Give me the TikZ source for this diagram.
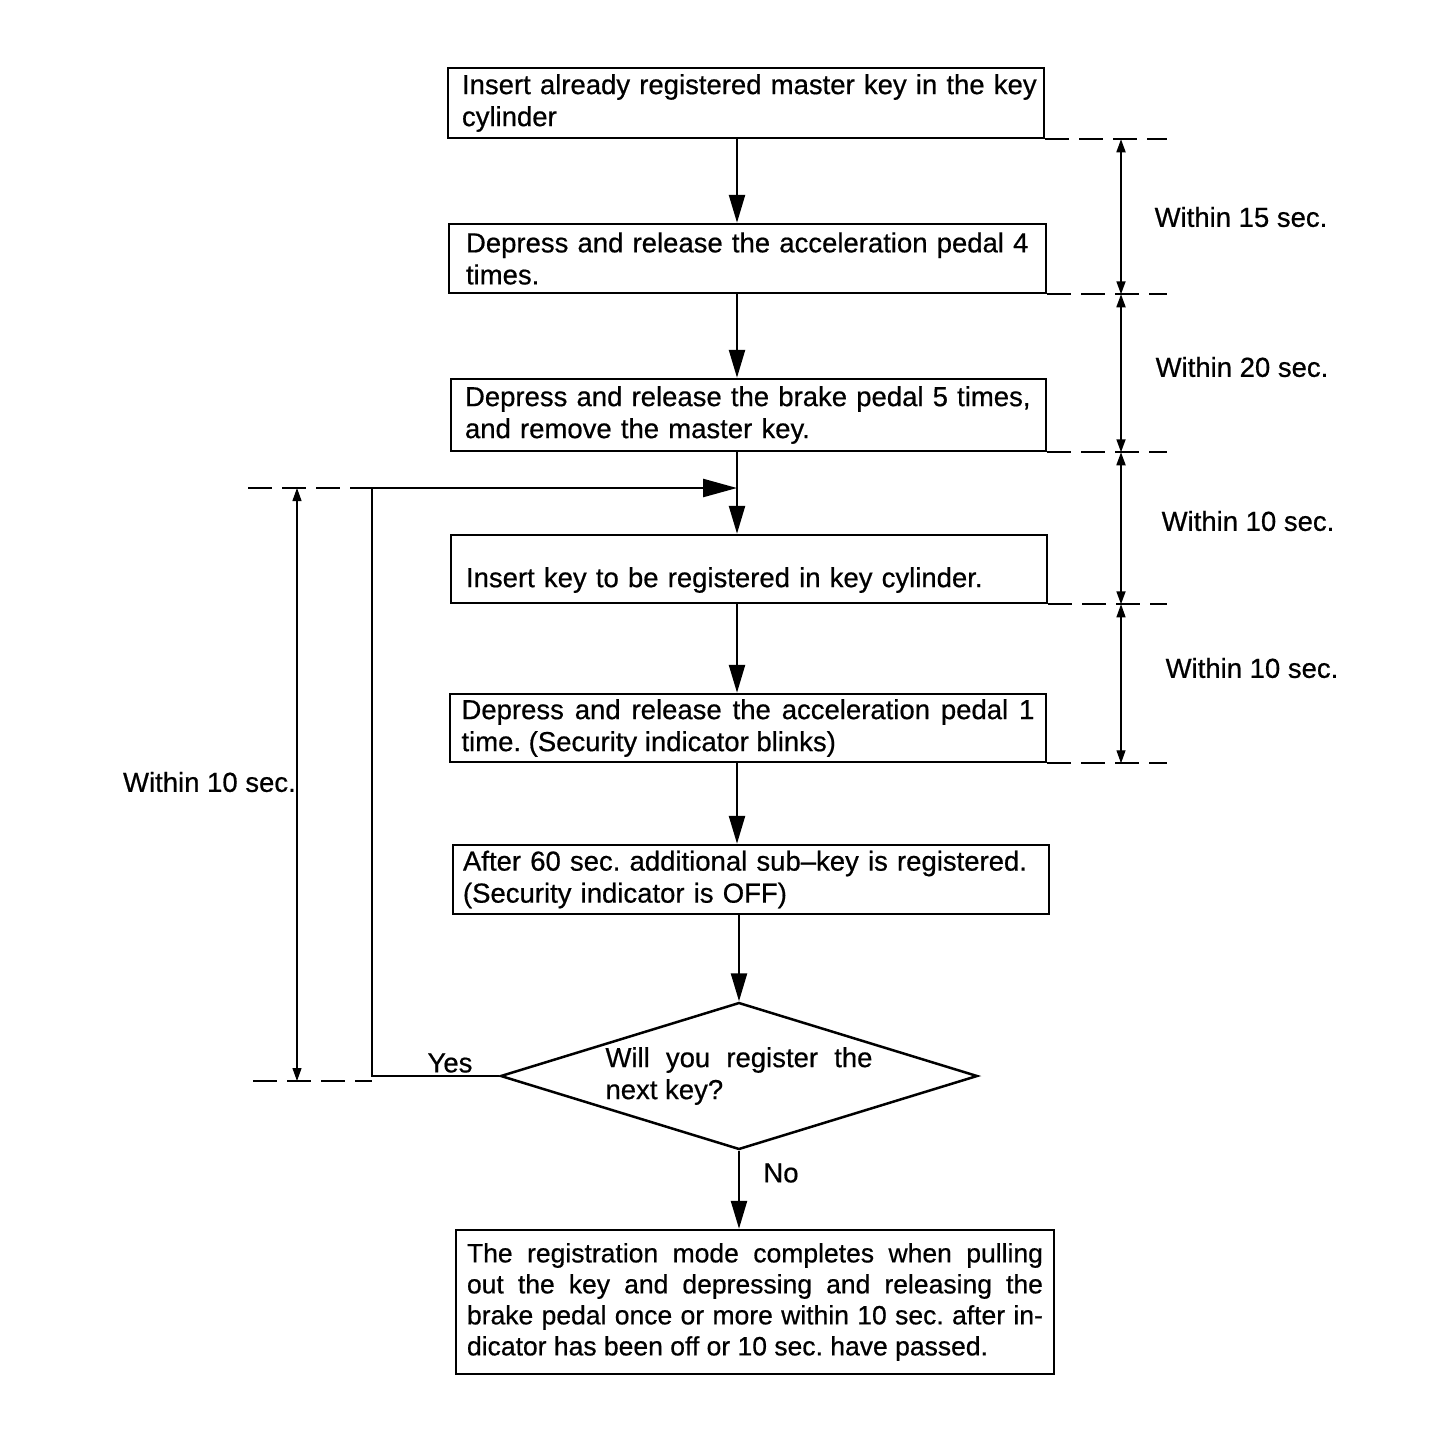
\documentclass[tikz,border=0pt]{standalone}
\usepackage{fontspec}
\setmainfont[FakeBold=0.6]{Liberation Sans}
\usetikzlibrary{arrows.meta,shapes.geometric,calc}
\begin{document}
\frenchspacing
\begin{tikzpicture}[x=1pt,y=-1pt,
  every node/.style={font=\fontsize{27.5}{32}\selectfont\frenchspacing},
  box/.style={draw,line width=2.5pt,rectangle,inner sep=0pt,align=left},
  jbox/.style={draw,line width=2.5pt,rectangle,inner sep=0pt,align=justify},
  flow/.style={line width=2.5pt,-{Triangle[length=28pt,width=16pt]}},
  dim/.style={line width=1.8pt,{Triangle[length=13pt,width=9pt]}-{Triangle[length=13pt,width=9pt]}},
  dashline/.style={line width=1.8pt,dash pattern=on 24pt off 10pt},
  lbl/.style={inner sep=0pt}]
\useasboundingbox (0,0) rectangle (1456,1454);

% boxes
\node[box,minimum width=596,minimum height=70,text width=568] (b1) at (746,103)
  {\mbox{Insert already registered master key in the key}\\cylinder};
\node[box,minimum width=597,minimum height=69,text width=563] (b2) at (747.5,258.5)
  {\mbox{Depress and release the acceleration pedal 4}\\times.};
\node[box,minimum width=595,minimum height=72,text width=567] (b3) at (748.5,415)
  {\mbox{Depress and release the brake pedal 5 times,}\\and remove the master key.};
\node[box,minimum width=596,minimum height=68,text width=566] (b4) at (749,569)
  {\rule{0pt}{42pt}Insert key to be registered in key cylinder.};
\node[jbox,minimum width=596,minimum height=68,text width=573] (b5) at (748,728)
  {Depress and release the acceleration pedal 1\linebreak time. (Security indicator blinks)};
\node[box,minimum width=596,minimum height=69,text width=576] (b6) at (751,879.5)
  {\mbox{After 60 sec. additional sub–key is registered.}\\(Security indicator is OFF)};
\node[diamond,draw,line width=2.5pt,aspect=3.245,minimum width=477,minimum height=147,
  inner sep=0pt,text width=267,align=justify] (q) at (739,1076)
  {Will you register the\linebreak next key?};
\node[jbox,minimum width=598,minimum height=144,text width=576,
  font=\fontsize{26.5}{31}\selectfont\frenchspacing] (b7) at (755,1302)
  {The registration mode completes when pulling\linebreak out the key and depressing and releasing the\linebreak brake pedal once or more within 10 sec. after in-\linebreak dicator has been off or 10 sec. have passed.};

% spine and helper coordinates
\coordinate (sp) at (737,0);
\coordinate (lp) at (372,488);
\coordinate (ld1) at (248,488);
\coordinate (ld2) at (253,1081);
\coordinate (ldim) at (297,0);
\coordinate (rdash) at (1167,0);
\coordinate (rdim) at (1121,0);

% flow arrows
\draw[flow] (b1.south -| sp) -- (b2.north -| sp);
\draw[flow] (b2.south -| sp) -- (b3.north -| sp);
\draw[flow] (b3.south -| sp) -- (b4.north -| sp);
\draw[flow] (b4.south -| sp) -- (b5.north -| sp);
\draw[flow] (b5.south -| sp) -- (b6.north -| sp);
\draw[flow] (b6.south -| q.north) -- (q.north);
\draw[flow] (q.south) -- (b7.north -| q.south);
\draw[line width=2.5pt,-{Triangle[length=34pt,width=18pt]}] (q.west) -| (lp) -- (lp -| sp);

% right time dimensions
\foreach \b in {b1,b2,b3,b4,b5}{
  \draw[dashline] (\b.south east) -- (\b.south east -| rdash);
}
\draw[dim] (b1.south east -| rdim) -- (b2.south east -| rdim);
\draw[dim] (b2.south east -| rdim) -- (b3.south east -| rdim);
\draw[dim] (b3.south east -| rdim) -- (b4.south east -| rdim);
\draw[dim,line width=1.2pt] (b4.south east -| rdim) -- (b5.south east -| rdim);

\node[lbl] (t1) at (1241,217) {Within 15 sec.};
\node[lbl] (t2) at (1242,367) {Within 20 sec.};
\node[lbl] (t3) at (1248,521) {Within 10 sec.};
\node[lbl] (t4) at (1252,668) {Within 10 sec.};

% left time dimension
\draw[dashline] (ld1) -- (lp);
\draw[dashline] (ld2) -- (ld2 -| lp);
\draw[dim,line width=1.2pt] (ld1 -| ldim) -- (ld2 -| ldim);
\node[lbl,anchor=east] (t5) at (296,782) {Within 10 sec.};

% branch labels
\node[lbl] (yes) at (450,1063) {Yes};
\node[lbl] (no) at (781,1173) {No};
\end{tikzpicture}
\end{document}
